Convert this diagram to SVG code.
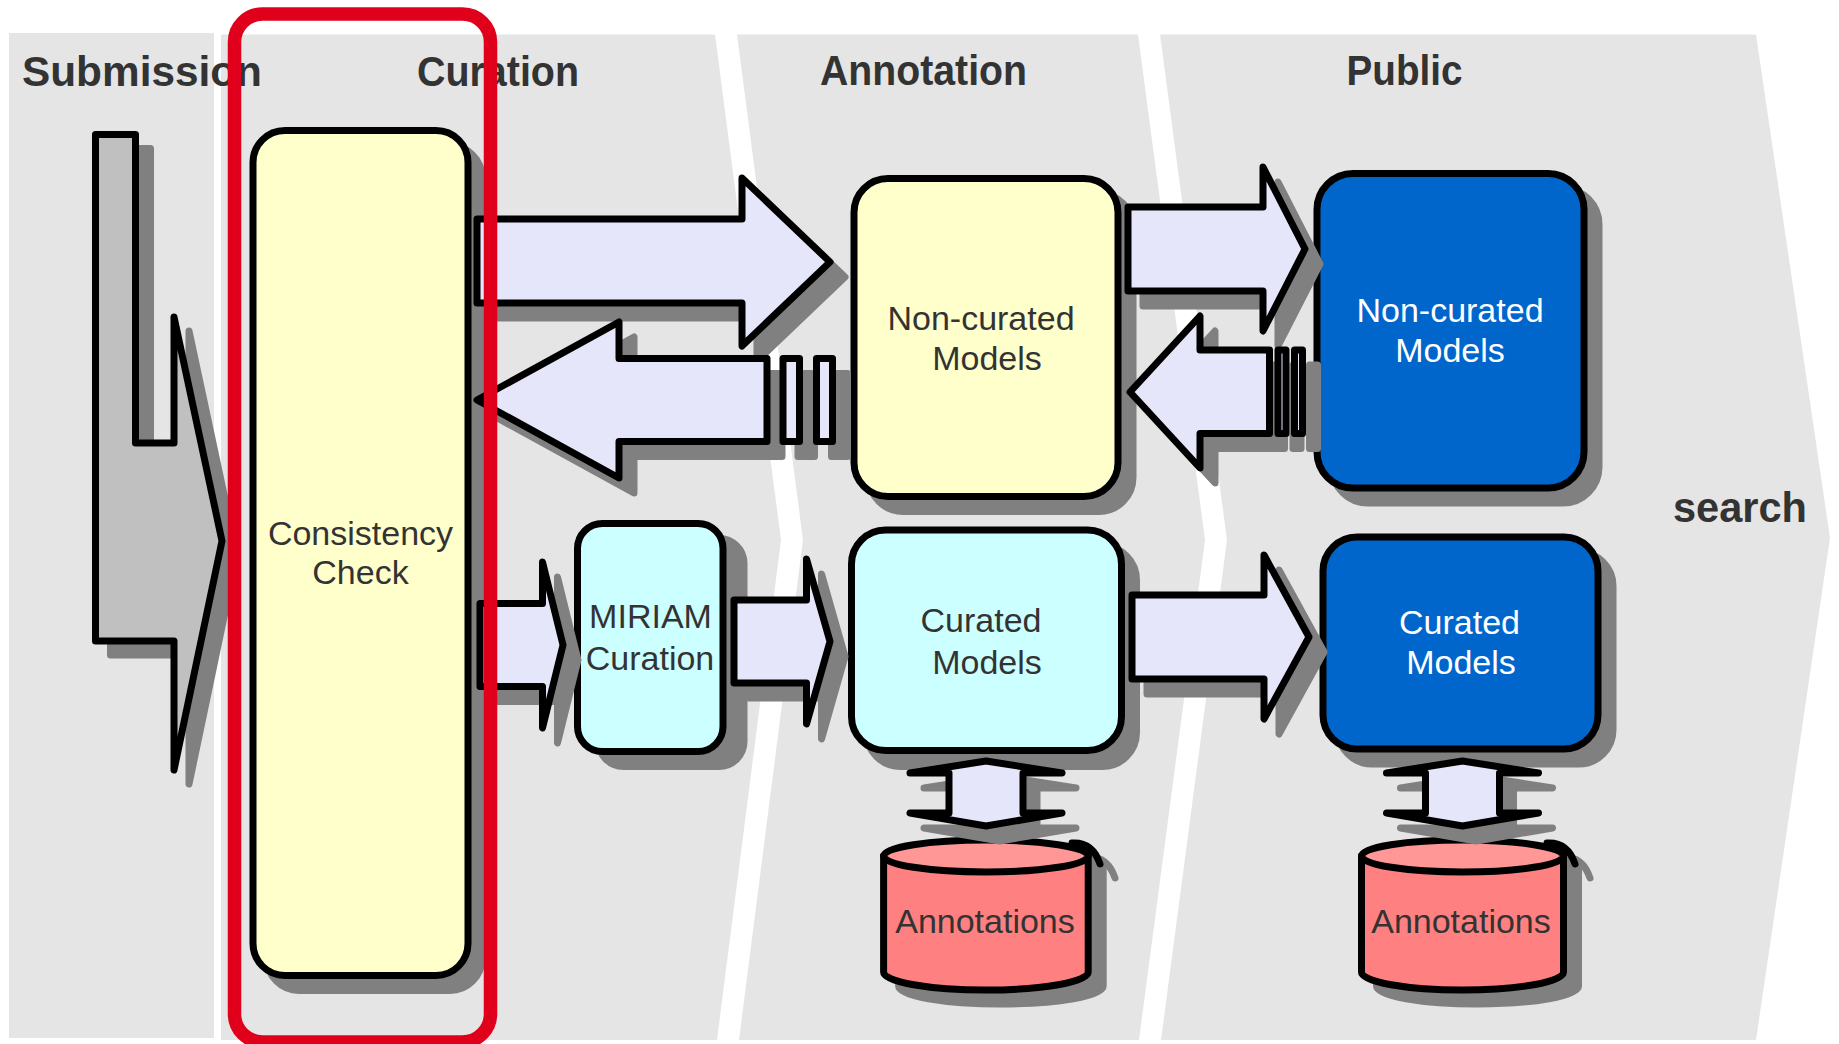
<svg xmlns="http://www.w3.org/2000/svg" xmlns:xlink="http://www.w3.org/1999/xlink" width="1839" height="1044" viewBox="0 0 1839 1044">
  <style>
    .lane { fill: #e5e5e5; }
    .lbl { font-family: "Liberation Sans", Arial, Helvetica, sans-serif; font-weight: bold; font-size: 42px; fill: #333333; }
    .txt { font-family: "Liberation Sans", Arial, Helvetica, sans-serif; font-size: 34px; fill: #333333; text-anchor: middle; }
    .txt.w { fill: #ffffff; }
    .sh { fill: #808080; stroke: #808080; stroke-width: 7; stroke-linejoin: round; stroke-linecap: round; }
    .ln { stroke: #000000; stroke-width: 7; stroke-linejoin: round; stroke-linecap: round; }
    .yel { fill: #ffffcc; }
    .cyan { fill: #ccffff; }
    .blue { fill: #0066cc; }
    .lav { fill: #e6e6fa; }
    .grey { fill: #c0c0c0; }
    .pink { fill: #ff8080; }
    .pinktop { fill: #ff9797; }
    .hook { fill: none; }
    .highlight { fill: none; stroke: #e0001b; stroke-width: 13.5; }
  </style>
  <defs>
    <!-- box outlines -->
    <rect id="r-cc" x="253" y="130.5" width="215" height="845" rx="32"/>
    <rect id="r-ncy" x="854" y="178.5" width="264" height="318" rx="34"/>
    <rect id="r-mir" x="577.5" y="523.5" width="145.5" height="228" rx="25"/>
    <rect id="r-cur" x="851.5" y="530" width="270" height="220.5" rx="34"/>
    <rect id="r-ncb" x="1317" y="173.5" width="267" height="314.5" rx="36"/>
    <rect id="r-curb" x="1323" y="537" width="275" height="212" rx="34"/>
    <!-- block arrows -->
    <path id="a-sub" d="M95.5,134.5 H135.5 V443 H174 V317 L222,541 L174,770 V641 H95.5 Z"/>
    <path id="a1" d="M477,219 H742 V178 L830,262 L742,346 V303 H477 Z"/>
    <path id="a2" d="M477,400 L619,322 V358.5 H767 V441.5 H619 V478 Z"/>
    <rect id="a2s1" x="783" y="358.5" width="16.5" height="83"/>
    <rect id="a2s2" x="816.5" y="358.5" width="16" height="83"/>
    <path id="a3" d="M1128,207 H1263 V167 L1305,249 L1263,331 V291 H1128 Z"/>
    <path id="a4" d="M1130,392 L1200,316 V350 H1269.5 V433.5 H1200 V468 Z"/>
    <rect id="a4s1" x="1278" y="350" width="8" height="83.5"/>
    <rect id="a4s2" x="1294.5" y="350" width="8" height="83.5"/>
    <path id="a5" d="M1132,595 H1264 V555 L1309,637 L1264,719 V679 H1132 Z"/>
    <path id="a6" d="M480,603.5 H542.5 V562 L563,645 L542.5,728 V686.5 H480 Z"/>
    <path id="a7" d="M734,600 H806.5 V559 L830,641.5 L806.5,724 V683 H734 Z"/>
    <path id="da-l" d="M986,761 L1062,773 H1023 V813 H1062 L986,826 L910,813 H949 V773 H910 Z"/>
    <path id="da-r" d="M1462.5,761 L1538.5,773 H1499.5 V813 H1538.5 L1462.5,826 L1386.5,813 H1425.5 V773 H1386.5 Z"/>
  </defs>

  <rect width="1839" height="1044" fill="#ffffff"/>

  <!-- swimlanes -->
  <g id="lanes">
    <rect class="lane" x="9" y="33" width="205" height="1005"/>
    <path class="lane" d="M221,34.5 H715 L781,540 L717,1040 H221 Z"/>
    <path class="lane" d="M737,34.5 H1138 L1205,540 L1139,1040 H739 L803,540 Z"/>
    <path class="lane" d="M1160,34.5 H1756 L1830,538 L1756,1040 H1161 L1227,540 Z"/>
    <text class="lbl" x="22" y="86" textLength="240" lengthAdjust="spacingAndGlyphs">Submission</text>
    <text class="lbl" x="417" y="86" textLength="162" lengthAdjust="spacingAndGlyphs">Curation</text>
    <text class="lbl" x="820" y="85" textLength="207" lengthAdjust="spacingAndGlyphs">Annotation</text>
    <text class="lbl" x="1346.5" y="85" textLength="116" lengthAdjust="spacingAndGlyphs">Public</text>
    <text class="lbl" x="1673" y="522" textLength="134" lengthAdjust="spacingAndGlyphs">search</text>
  </g>

  <!-- nodes -->
  <g id="consistency-check">
    <use href="#r-cc" class="sh" transform="translate(14,15)"/>
    <use href="#r-cc" class="ln yel"/>
    <text class="txt" x="360.5" y="545">Consistency</text>
    <text class="txt" x="360.5" y="584">Check</text>
  </g>

  <g id="miriam-curation">
    <use href="#r-mir" class="sh" transform="translate(21,15)"/>
    <use href="#r-mir" class="ln cyan"/>
    <text class="txt" x="650.5" y="628">MIRIAM</text>
    <text class="txt" x="650" y="670">Curation</text>
  </g>

  <g id="noncurated-annotation">
    <use href="#r-ncy" class="sh" transform="translate(15,15)"/>
    <use href="#r-ncy" class="ln yel"/>
    <text class="txt" x="981" y="330">Non-curated</text>
    <text class="txt" x="987" y="370">Models</text>
  </g>

  <g id="curated-annotation">
    <use href="#r-cur" class="sh" transform="translate(15,16)"/>
    <use href="#r-cur" class="ln cyan"/>
    <text class="txt" x="981" y="632">Curated</text>
    <text class="txt" x="987" y="674">Models</text>
  </g>

  <g id="noncurated-public">
    <use href="#r-ncb" class="sh" transform="translate(15,15)"/>
    <use href="#r-ncb" class="ln blue"/>
    <text class="txt w" x="1450" y="322">Non-curated</text>
    <text class="txt w" x="1450" y="362">Models</text>
  </g>

  <g id="curated-public">
    <use href="#r-curb" class="sh" transform="translate(15,15)"/>
    <use href="#r-curb" class="ln blue"/>
    <text class="txt w" x="1459.5" y="634">Curated</text>
    <text class="txt w" x="1461" y="674">Models</text>
  </g>

  <g id="annotations-curated">
    <path class="sh" transform="translate(15,14)" d="M883.6,856 A102.3,16 0 0 1 1088.2,856 V972 A102.3,18 0 0 1 883.6,972 Z"/>
    <path class="sh hook" transform="translate(15,14)" d="M1072,843 C1088,842 1096,852 1100,864"/>
    <path class="ln pink" d="M883.6,856 V972 A102.3,18 0 0 0 1088.2,972 V856 Z"/>
    <ellipse class="ln pinktop" cx="985.9" cy="856" rx="102.3" ry="16"/>
    <path class="ln hook" d="M1072,843 C1088,842 1096,852 1100,864"/>
    <text class="txt" x="985" y="933">Annotations</text>
  </g>

  <g id="annotations-public">
    <path class="sh" transform="translate(15,14)" d="M1361.5,856 A101,16 0 0 1 1563.5,856 V972 A101,18 0 0 1 1361.5,972 Z"/>
    <path class="sh hook" transform="translate(15,14)" d="M1547,843 C1563,842 1571,852 1575,864"/>
    <path class="ln pink" d="M1361.5,856 V972 A101,18 0 0 0 1563.5,972 V856 Z"/>
    <ellipse class="ln pinktop" cx="1462.5" cy="856" rx="101" ry="16"/>
    <path class="ln hook" d="M1547,843 C1563,842 1571,852 1575,864"/>
    <text class="txt" x="1461" y="933">Annotations</text>
  </g>

  <!-- connectors: block arrows, each with its drop shadow -->
  <g id="connectors">
    <g id="submit-arrow">
      <use href="#a-sub" class="sh" transform="translate(15,14)"/>
      <use href="#a-sub" class="ln grey"/>
    </g>
    <g id="check-to-noncurated">
      <use href="#a1" class="sh" transform="translate(15,15)"/>
      <use href="#a1" class="ln lav"/>
    </g>
    <g id="noncurated-to-check">
      <use href="#a2" class="sh" transform="translate(15,15)"/>
      <use href="#a2s1" class="sh" transform="translate(15,15)"/>
      <use href="#a2s2" class="sh" transform="translate(15,15)"/>
      <use href="#a2" class="ln lav"/>
      <use href="#a2s1" class="ln lav"/>
      <use href="#a2s2" class="ln lav"/>
    </g>
    <g id="noncurated-to-public">
      <use href="#a3" class="sh" transform="translate(15,15)"/>
      <use href="#a3" class="ln lav"/>
    </g>
    <g id="public-to-noncurated">
      <use href="#a4" class="sh" transform="translate(15,15)"/>
      <use href="#a4s1" class="sh" transform="translate(15,15)"/>
      <use href="#a4s2" class="sh" transform="translate(15,15)"/>
      <use href="#a4" class="ln lav"/>
      <use href="#a4s1" class="ln lav"/>
      <use href="#a4s2" class="ln lav"/>
    </g>
    <g id="check-to-miriam">
      <use href="#a6" class="sh" transform="translate(15,15)"/>
      <use href="#a6" class="ln lav"/>
    </g>
    <g id="miriam-to-curated">
      <use href="#a7" class="sh" transform="translate(15,15)"/>
      <use href="#a7" class="ln lav"/>
    </g>
    <g id="curated-to-public">
      <use href="#a5" class="sh" transform="translate(15,15)"/>
      <use href="#a5" class="ln lav"/>
    </g>
    <g id="curated-annotations-link">
      <use href="#da-l" class="sh" transform="translate(14,15)"/>
      <use href="#da-l" class="ln lav"/>
    </g>
    <g id="public-annotations-link">
      <use href="#da-r" class="sh" transform="translate(14,15)"/>
      <use href="#da-r" class="ln lav"/>
    </g>
  </g>

  <!-- highlight frame around the curation stage -->
  <g id="highlight">
    <rect class="highlight" x="234.5" y="14" width="256" height="1028" rx="28"/>
  </g>
</svg>
